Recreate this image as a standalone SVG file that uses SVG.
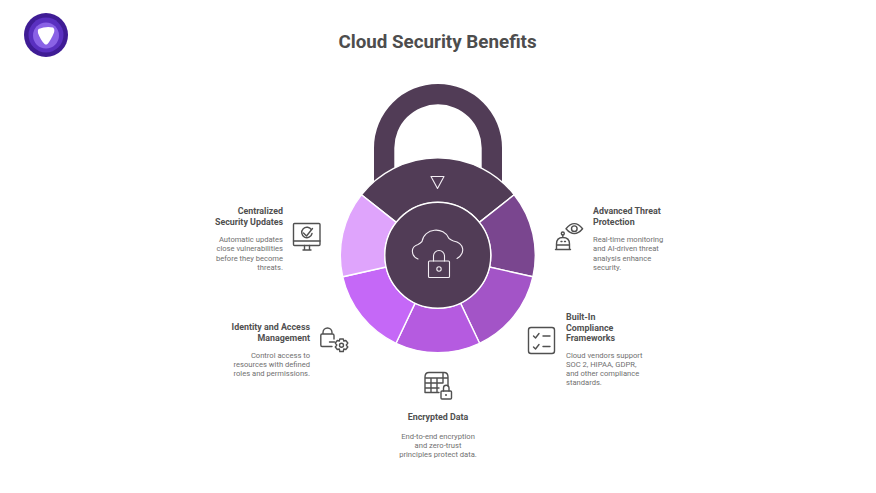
<svg xmlns="http://www.w3.org/2000/svg" width="876" height="493" viewBox="0 0 876 493">
<style>
text{font-family:Roboto,"Liberation Sans",sans-serif}
.t{font-size:8.9px;font-weight:700;fill:#505050}
.d{font-size:7.6px;fill:#707070}
.e{text-anchor:end}.m{text-anchor:middle}
.seg{stroke:#fff;stroke-width:1.4}
.w{fill:none;stroke:#f3eef4;stroke-width:1.1;stroke-linecap:round;stroke-linejoin:round}
.i{fill:none;stroke:#505050;stroke-width:1.4;stroke-linecap:round;stroke-linejoin:round}
</style>
<rect width="876" height="493" fill="#fff"/>
<g id="logo">
<circle cx="46" cy="35" r="22" fill="#3f1c95"/>
<circle cx="46" cy="35" r="17.500" fill="#5a30c0"/>
<circle cx="46" cy="35.500" r="13" fill="#8a62e6"/>
<path d="M38.500 29Q46 26 53 27.500Q55 29 54 32.500Q51 40 47.500 44Q46 45 44.500 44Q40.500 40 38 33Q37.500 30 38.500 29Z" fill="#fff"/>
</g>
<text id="title" x="437.500" y="48" class="m" style="font-size:18.800px;font-weight:700;fill:#4d4d4d">Cloud Security Benefits</text>
<g id="lock">
<path id="shackle" d="M374 182V148A64 64 0 0 1 502 148V182H481.700V148A43.700 43.700 0 0 0 394.300 148V182Z" fill="#513c56"/>
<path id="seg-top" class="seg" d="M361.400 194.700A97.500 97.500 0 0 1 514.200 194.700L479.300 222.400A53 53 0 0 0 396.300 222.400Z" fill="#513c56"/>
<path id="seg-right" class="seg" d="M514.200 194.700A97.500 97.500 0 0 1 532.900 276.800L489.500 267A53 53 0 0 0 479.300 222.400Z" fill="#7a468f"/>
<path id="seg-lower-right" class="seg" d="M532.900 276.800A97.500 97.500 0 0 1 479.600 343.300L460.500 303.100A53 53 0 0 0 489.500 267Z" fill="#a354c7"/>
<path id="seg-bottom" class="seg" d="M479.600 343.300A97.500 97.500 0 0 1 396 343.300L415.100 303.100A53 53 0 0 0 460.500 303.100Z" fill="#b55be0"/>
<path id="seg-lower-left" class="seg" d="M396 343.300A97.500 97.500 0 0 1 342.700 276.800L386.100 267A53 53 0 0 0 415.100 303.100Z" fill="#c568f7"/>
<path id="seg-left" class="seg" d="M342.700 276.800A97.500 97.500 0 0 1 361.400 194.700L396.300 222.400A53 53 0 0 0 386.100 267Z" fill="#dfa4fc"/>
<circle id="hub" class="seg" cx="437.800" cy="255.300" r="53" fill="#513c56"/>
<path class="w" d="M431 176.500H444L437.500 188.500Z"/>
<path class="w" d="M418 259C411 256 410 247 418 244.500C420 243.500 421 242.500 422 241.500C424 228 444 226 449 238.500C451 240 452 240.500 453.500 241C464 243 466 253 457 258.500"/>
<path class="w" d="M429.500 261H448.500Q449.500 261 449.500 262V276.500Q449.500 277.500 448.500 277.500H429.500Q428.500 277.500 428.500 276.500V262Q428.500 261 429.500 261Z"/>
<path class="w" d="M433.500 261V256A5.500 5.500 0 0 1 444.500 256V261"/>
<circle class="w" cx="439" cy="269" r="2.200"/>
</g>
<g id="connectors"></g>
<g id="node-updates">
<text class="t e" x="283" y="214">Centralized</text>
<text class="t e" x="283" y="225">Security Updates</text>
<text class="d e" x="283" y="242">Automatic updates</text>
<text class="d e" x="283" y="251">close vulnerabilities</text>
<text class="d e" x="283" y="260.500">before they become</text>
<text class="d e" x="283" y="269.500">threats.</text>
<rect class="i" x="293.500" y="223.500" width="26.500" height="22" rx="1"/>
<path class="i" d="M293.500 241H320M303 250H311M304.500 245.500V250M309.500 245.500V250"/>
<path class="i" d="M311.500 230A5.200 5.200 0 1 0 312 233.500M303.500 233L306.500 236L312.500 228.500"/>
</g>
<g id="node-iam">
<text class="t e" x="310" y="329.500">Identity and Access</text>
<text class="t e" x="310" y="340.500">Management</text>
<text class="d e" x="310" y="357.500">Control access to</text>
<text class="d e" x="310" y="366.500">resources with defined</text>
<text class="d e" x="310" y="376">roles and permissions.</text>
<path class="i" d="M332 346.500H322Q320.800 346.500 320.800 345V335.500Q320.800 334 322 334H332.500Q334 334 334 335.500V339M323 334V332.500A4.500 4.500 0 0 1 332 332.500V334M329.500 342H334.500"/>
<path class="i" d="M339.800 339H343.300L343.800 341L345.800 340.500L347.800 343L346.300 345L347.800 347L345.800 349.500L343.800 349L343.300 351.500H339.800L339.300 349L337.300 349.500L335.300 347L336.800 345L335.300 343L337.300 340.500L339.300 341Z"/>
<circle class="i" cx="341.500" cy="345.200" r="2"/>
</g>
<g id="node-encrypted">
<path class="i" d="M448 386V377Q448 372.500 444 372.500H429Q425 372.500 425 377V392.500H439M425 378H448M425 383H442M425 388H439M431 378V392.500M437 378V392.500M443 372.500V383"/>
<rect x="441" y="391" width="10.500" height="8" rx="1" fill="#fff" stroke="#505050" stroke-width="1.400"/>
<path class="i" d="M443.500 391V388A2.700 2.700 0 0 1 449 388V391"/>
<circle cx="446" cy="395" r="1" fill="#505050"/>
<text class="t m" x="438" y="420">Encrypted Data</text>
<text class="d m" x="438" y="438.500">End-to-end encryption</text>
<text class="d m" x="438" y="447.500">and zero-trust</text>
<text class="d m" x="438" y="457">principles protect data.</text>
</g>
<g id="node-compliance">
<rect class="i" x="528.500" y="327.500" width="26" height="26" rx="2.500"/>
<path class="i" d="M533.500 336L535.500 338L539 333.500M533.500 347L535.500 349L539 344.500M543 336H550M543 346.500H550"/>
<text class="t" x="566" y="319.500">Built-In</text>
<text class="t" x="566" y="330.500">Compliance</text>
<text class="t" x="566" y="341">Frameworks</text>
<text class="d" x="566" y="357.500">Cloud vendors support</text>
<text class="d" x="566" y="366.500">SOC 2, HIPAA, GDPR,</text>
<text class="d" x="566" y="376">and other compliance</text>
<text class="d" x="566" y="385">standards.</text>
</g>
<g id="node-threat">
<path class="i" d="M566 228.700Q574.300 218.500 582.600 228.700Q574.300 238.500 566 228.700Z"/>
<circle class="i" cx="574.300" cy="228.700" r="2.800"/>
<path class="i" d="M556.500 249.500V244Q556.500 237.500 562.800 237.500Q569.500 237.500 569.500 244V249.500ZM555.500 249.500H570.500M557 245H569M561 241.500H562M564.500 241.500H565.500M562.800 237.500V235"/>
<circle class="i" cx="562.800" cy="233.500" r="1.500"/>
<text class="t" x="593" y="214">Advanced Threat</text>
<text class="t" x="593" y="225">Protection</text>
<text class="d" x="593" y="242">Real-time monitoring</text>
<text class="d" x="593" y="251">and AI-driven threat</text>
<text class="d" x="593" y="260.500">analysis enhance</text>
<text class="d" x="593" y="269.500">security.</text>
</g>
</svg>
